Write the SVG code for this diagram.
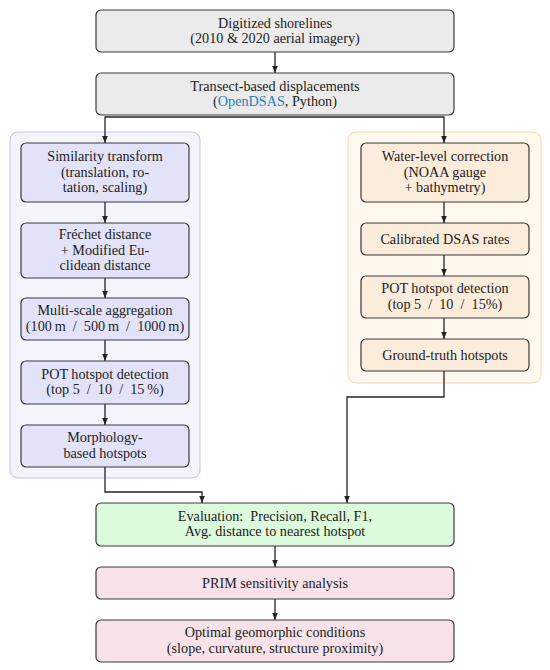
<svg xmlns="http://www.w3.org/2000/svg" width="550" height="670" viewBox="0 0 550 670">
<defs>
<marker id="ah" viewBox="0 0 10 10" refX="10" refY="5" markerWidth="7" markerHeight="7" markerUnits="userSpaceOnUse" orient="auto">
<path d="M0,1 L10,5 L0,9 z" fill="#222"/>
</marker>
<style>
text{font-family:"Liberation Serif","DejaVu Serif",serif;font-size:14.2px;fill:#222;text-anchor:middle}
.n{stroke:#3a3a3a;stroke-width:1.2}
.gray{fill:#ebebeb}
.blue{fill:#e2e2f8}
.orange{fill:#fcecdc}
.green{fill:#dcfadc}
.pink{fill:#f7e2ea}
.c{fill:none;stroke:#222;stroke-width:1.3}
.a{marker-end:url(#ah)}
</style>
</defs>
<rect width="550" height="670" fill="#fff"/>
<g id="panels">
<rect x="10" y="132" width="190" height="346" rx="8" fill="#f4f4fd" stroke="#c4c4ec" stroke-width="1"/>
<rect x="348" y="132" width="193" height="251" rx="8" fill="#fff8ef" stroke="#f3d6b0" stroke-width="1"/>
</g>
<g id="connectors">
<path class="c a" d="M275,52 V73"/>
<path class="c" d="M105,117 H444"/>
<path class="c a" d="M105,116.5 V143"/>
<path class="c a" d="M444,116.5 V143"/>
<path class="c a" d="M105,202 V223"/>
<path class="c a" d="M105,278 V298"/>
<path class="c a" d="M105,340 V361"/>
<path class="c a" d="M105,404 V425"/>
<path class="c a" d="M105,467 V492 H202 V503"/>
<path class="c a" d="M444,202 V223"/>
<path class="c a" d="M444,255 V276"/>
<path class="c a" d="M444,318 V339"/>
<path class="c a" d="M444,371 V397 H347 V503"/>
<path class="c a" d="M275,546 V567"/>
<path class="c a" d="M275,599 V620"/>
</g>
<g id="n1"><rect class="n gray" x="96" y="10" width="358" height="42" rx="5"/><text x="275" y="27.5">Digitized shorelines</text><text x="275" y="43">(2010 &amp; 2020 aerial imagery)</text></g>
<g id="n2"><rect class="n gray" x="96" y="73" width="358" height="42" rx="5"/><text x="275" y="90.5">Transect-based displacements</text><text x="275" y="106">(<tspan fill="#2b7bb9">OpenDSAS</tspan>, Python)</text></g>
<g id="l1"><rect class="n blue" x="21" y="143" width="168" height="59" rx="5"/><text x="105" y="161">Similarity transform</text><text x="105" y="176.5">(translation, ro-</text><text x="105" y="192">tation, scaling)</text></g>
<g id="l2"><rect class="n blue" x="21" y="223" width="168" height="55" rx="5"/><text x="105" y="239">Fréchet distance</text><text x="105" y="254.5">+ Modified Eu-</text><text x="105" y="270">clidean distance</text></g>
<g id="l3"><rect class="n blue" x="21" y="298" width="168" height="42" rx="5"/><text x="105" y="315">Multi-scale aggregation</text><text x="105" y="330.5">(100&#8201;m &#160;/ &#160;500&#8201;m &#160;/ &#160;1000&#8201;m)</text></g>
<g id="l4"><rect class="n blue" x="21" y="361" width="168" height="43" rx="5"/><text x="105" y="378.5">POT hotspot detection</text><text x="105" y="394">(top 5 &#160;/ &#160;10 &#160;/ &#160;15&#8201;%)</text></g>
<g id="l5"><rect class="n blue" x="21" y="425" width="168" height="42" rx="5"/><text x="105" y="442">Morphology-</text><text x="105" y="457.5">based hotspots</text></g>
<g id="r1"><rect class="n orange" x="361" y="143" width="168" height="59" rx="5"/><text x="445" y="161">Water-level correction</text><text x="445" y="176.5">(NOAA gauge</text><text x="445" y="192">+ bathymetry)</text></g>
<g id="r2"><rect class="n orange" x="361" y="223" width="168" height="32" rx="5"/><text x="445" y="243.5">Calibrated DSAS rates</text></g>
<g id="r3"><rect class="n orange" x="361" y="276" width="168" height="42" rx="5"/><text x="445" y="293">POT hotspot detection</text><text x="445" y="308.5">(top 5 &#160;/ &#160;10 &#160;/ &#160;15%)</text></g>
<g id="r4"><rect class="n orange" x="361" y="339" width="168" height="32" rx="5"/><text x="445" y="359.5">Ground-truth hotspots</text></g>
<g id="e1"><rect class="n green" x="96" y="503" width="358" height="43" rx="5"/><text x="275" y="520.5">Evaluation: &#160;Precision, Recall, F1,</text><text x="275" y="536">Avg. distance to nearest hotspot</text></g>
<g id="p1"><rect class="n pink" x="96" y="567" width="358" height="32" rx="5"/><text x="275" y="587.5">PRIM sensitivity analysis</text></g>
<g id="p2"><rect class="n pink" x="96" y="620" width="358" height="42" rx="5"/><text x="275" y="637">Optimal geomorphic conditions</text><text x="275" y="652.5">(slope, curvature, structure proximity)</text></g>
</svg>
